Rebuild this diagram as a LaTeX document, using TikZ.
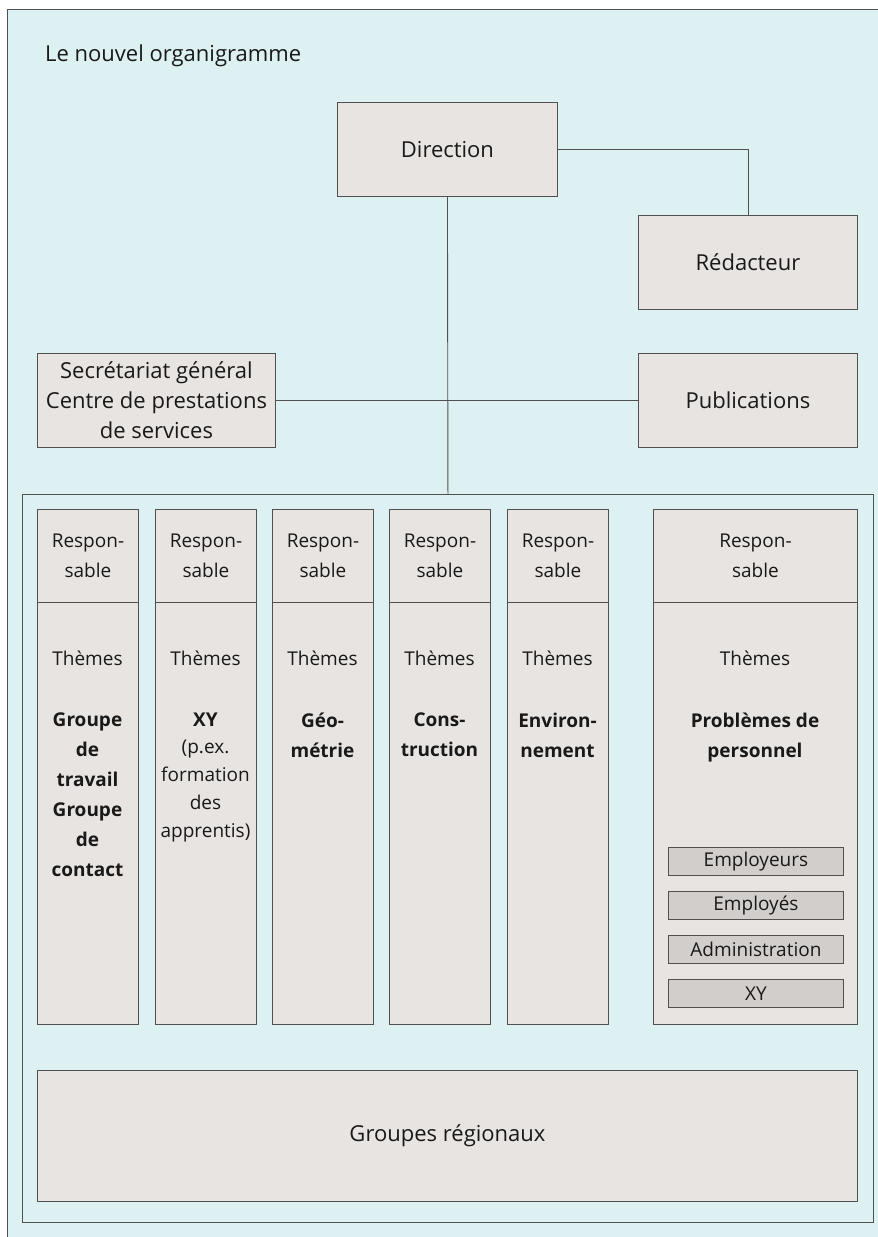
\documentclass[tikz,border=0pt]{standalone}
\usepackage{fontspec}
\setmainfont{Open Sans}
\definecolor{bgblue}{HTML}{DDF1F3}
\definecolor{boxgray}{HTML}{E8E4E2}
\definecolor{darkbox}{HTML}{D2CECC}
\definecolor{linegray}{HTML}{505050}
\begin{document}
\begin{tikzpicture}[x=1pt,y=-1pt,
    font=\fontsize{19}{30}\selectfont, text=black!90,
    box/.style={draw=linegray, fill=boxgray, line width=0.9pt, inner sep=0pt, align=center, anchor=north west},
    bigbox/.style={box, font=\fontsize{22}{30}\selectfont},
    smallbox/.style={box, fill=darkbox, minimum width=175pt, minimum height=28pt},
    label/.style={inner sep=0pt, align=center, anchor=north},
    conn/.style={draw=linegray, line width=0.9pt}]
\useasboundingbox (0,0) rectangle (878,1237);
\draw [fill=bgblue, draw=linegray, line width=0.9pt] (7,9) rectangle (885,1245);

\node (title) [anchor=west, inner sep=0pt, font=\fontsize{22}{30}\selectfont] at (45,56) {Le nouvel organigramme};

% haut
\node (dir) [bigbox, minimum width=220pt, minimum height=94pt] at (337,102) {Direction};
\node (red) [bigbox, minimum width=219pt, minimum height=94pt] at (638,215) {Rédacteur};
\node (sec) [bigbox, minimum width=238pt, minimum height=94pt] at (37,353) {Secrétariat général\\Centre de prestations\\de services};
\node (pub) [bigbox, minimum width=219pt, minimum height=94pt] at (638,353) {Publications};
\node (inner) [box, fill=none, minimum width=851pt, minimum height=728pt] at (22,494) {};

\draw [conn] (dir.east) -| (red.north);
\draw [conn] (dir.south) -- (inner.north);
\draw [conn] (sec.east) -- (pub.west);

% colonnes
\foreach \x/\n in {37/a,155/b,272/c,389/d,507/e} {
  \node (resp\n) [box, minimum width=101pt, minimum height=93pt] at (\x,509) {Respon-\\sable};
  \node (body\n) [box, minimum width=101pt, minimum height=422pt] at (\x,602) {};
  \node (them\n) [label] at (\x+50.5,651) {Thèmes};
}
\node (respf) [box, minimum width=204pt, minimum height=93pt] at (653,509) {Respon-\\sable};
\node (bodyf) [box, minimum width=204pt, minimum height=422pt] at (653,602) {};
\node (themf) [label] at (755,651) {Thèmes};

\node (grpa) [label, font=\fontsize{19}{30}\selectfont\bfseries] at (87.5,713) {Groupe\\de\\travail\\Groupe\\de\\contact};
\node (grpb) [label, font=\fontsize{19}{30}\selectfont\bfseries] at (205.5,713) {XY};
\node (xyb) [label, font=\fontsize{19}{28}\selectfont] at (205.5,740) {(p.ex.\\formation\\des\\apprentis)};
\node (grpc) [label, font=\fontsize{19}{30}\selectfont\bfseries] at (322.5,713) {Géo-\\métrie};
\node (grpd) [label, font=\fontsize{19}{30}\selectfont\bfseries] at (439.5,713) {Cons-\\truction};
\node (grpe) [label, font=\fontsize{19}{30}\selectfont\bfseries] at (557.5,713) {Environ-\\nement};
\node (grpf) [label, font=\fontsize{19}{30}\selectfont\bfseries] at (755,713) {Problèmes de\\personnel};

\node (emp1) [smallbox] at (668,847) {Employeurs};
\node (emp2) [smallbox] at (668,891) {Employés};
\node (adm) [smallbox] at (668,935) {Administration};
\node (xyf) [smallbox] at (668,979) {XY};

% bas
\node (reg) [bigbox, minimum width=820pt, minimum height=131pt] at (37,1070) {Groupes régionaux};
\end{tikzpicture}
\end{document}
